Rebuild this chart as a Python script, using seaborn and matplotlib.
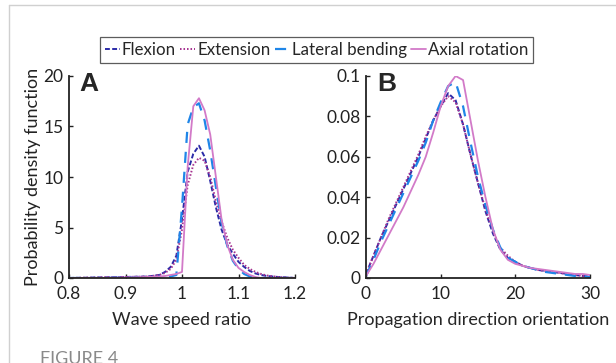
import numpy as np
import pandas as pd
import matplotlib
matplotlib.use("Agg")
import matplotlib.pyplot as plt
import seaborn as sns
from matplotlib.lines import Line2D

# Panel A: wave speed ratio
ratio = [0.80, 0.85, 0.90, 0.94, 0.96, 0.97, 0.98, 0.99, 1.00, 1.01, 1.02, 1.03, 1.04,
         1.05, 1.06, 1.07, 1.08, 1.09, 1.10, 1.11, 1.12, 1.13, 1.14, 1.15, 1.17, 1.20]
flex_a = [0.0, 0.05, 0.1, 0.15, 0.3, 0.6, 1.1, 2.2, 5.8, 10.5, 12.3, 13.1, 12.0,
          9.6, 7.0, 4.8, 3.3, 2.4, 1.6, 1.1, 0.7, 0.45, 0.3, 0.2, 0.1, 0.0]
ext_a = [0.0, 0.05, 0.1, 0.15, 0.3, 0.5, 0.9, 1.8, 4.8, 9.2, 11.2, 11.9, 11.6,
         10.0, 7.6, 5.6, 4.0, 2.8, 2.0, 1.3, 0.9, 0.6, 0.4, 0.25, 0.1, 0.0]
lat_a = [0.0, 0.0, 0.05, 0.05, 0.1, 0.1, 0.15, 0.3, 7.0, 15.2, 16.9, 17.3, 15.6,
         12.6, 9.0, 5.5, 3.2, 1.7, 0.9, 0.4, 0.15, 0.05, 0.0, 0.0, 0.0, 0.0]
axi_a = [0.0, 0.0, 0.05, 0.1, 0.15, 0.2, 0.3, 0.4, 0.6, 11.0, 17.0, 17.8, 16.6,
         14.2, 10.0, 5.8, 3.3, 1.8, 1.0, 0.6, 0.3, 0.1, 0.0, 0.0, 0.0, 0.0]

# Panel B: propagation direction orientation
angle = list(range(0, 31))
flex_b = [0.002, 0.011, 0.020, 0.028, 0.036, 0.044, 0.052, 0.060, 0.069, 0.078, 0.085,
          0.0915, 0.088, 0.076, 0.061, 0.047, 0.033, 0.022, 0.014, 0.010, 0.008,
          0.006, 0.005, 0.004, 0.0035, 0.003, 0.0025, 0.002, 0.0015, 0.001, 0.001]
ext_b = [0.002, 0.011, 0.020, 0.029, 0.037, 0.045, 0.053, 0.061, 0.070, 0.078, 0.085,
         0.090, 0.087, 0.076, 0.061, 0.047, 0.034, 0.023, 0.015, 0.011, 0.008,
         0.006, 0.005, 0.004, 0.0035, 0.003, 0.0025, 0.002, 0.0015, 0.001, 0.001]
lat_b = [0.001, 0.009, 0.018, 0.026, 0.034, 0.042, 0.050, 0.058, 0.067, 0.078, 0.087,
         0.095, 0.097, 0.085, 0.067, 0.050, 0.036, 0.024, 0.015, 0.010, 0.008,
         0.006, 0.005, 0.004, 0.003, 0.0025, 0.002, 0.0015, 0.001, 0.001, 0.0005]
axi_b = [0.001, 0.007, 0.014, 0.021, 0.028, 0.035, 0.043, 0.051, 0.060, 0.072, 0.085,
         0.095, 0.100, 0.098, 0.078, 0.058, 0.040, 0.024, 0.014, 0.009, 0.007,
         0.006, 0.005, 0.0045, 0.004, 0.0035, 0.003, 0.0025, 0.002, 0.002, 0.0015]

names = ["Flexion", "Extension", "Lateral bending", "Axial rotation"]
colors = ["#2b2ba8", "#a5318f", "#1f86e8", "#d27ac8"]
styles = [(0, (2.5, 1.2)), (0, (0.8, 1.0)), (0, (5, 4)), "-"]
widths = [1.4, 1.4, 1.6, 1.3]

df_a = pd.DataFrame({"x": ratio * 4,
                     "y": flex_a + ext_a + lat_a + axi_a,
                     "s": np.repeat(names, len(ratio))})
df_b = pd.DataFrame({"x": angle * 4,
                     "y": flex_b + ext_b + lat_b + axi_b,
                     "s": np.repeat(names, len(angle))})

sns.set_style("white")
plt.rcParams["font.family"] = ["Lato", "DejaVu Sans"]

fig = plt.figure(figsize=(6.16, 3.63), dpi=100)
W, H = 616, 363
ax_a = fig.add_axes([69 / W, 85 / H, 226 / W, 202 / H])
ax_b = fig.add_axes([366 / W, 85 / H, 224 / W, 202 / H])

for ax, df in [(ax_a, df_a), (ax_b, df_b)]:
    for name, c, ls, lw in zip(names, colors, styles, widths):
        sub = df[df["s"] == name]
        sns.lineplot(data=sub, x="x", y="y", ax=ax, color=c, linestyle=ls,
                     linewidth=lw, legend=False)
    sns.despine(ax=ax)
    for side in ["left", "bottom"]:
        ax.spines[side].set_linewidth(1.3)
        ax.spines[side].set_color("#222222")
    ax.tick_params(direction="in", length=3, width=1, labelsize=12.5,
                   colors="#222222", left=True, bottom=True)
    ax.tick_params(axis="x", pad=6)
    ax.tick_params(axis="y", pad=4)
    ax.set_ylabel("")

ax_a.set_xlim(0.8, 1.2)
ax_a.set_ylim(0, 20)
ax_a.set_xticks([0.8, 0.9, 1.0, 1.1, 1.2])
ax_a.set_xticklabels(["0.8", "0.9", "1", "1.1", "1.2"])
ax_a.set_yticks([0, 5, 10, 15, 20])
ax_a.set_xlabel("Wave speed ratio", fontsize=13, labelpad=7)

ax_b.set_xlim(0, 30)
ax_b.set_ylim(0, 0.1)
ax_b.set_xticks([0, 10, 20, 30])
ax_b.set_yticks([0, 0.02, 0.04, 0.06, 0.08, 0.1])
ax_b.set_yticklabels(["0", "0.02", "0.04", "0.06", "0.08", "0.1"])
ax_b.set_xlabel("Propagation direction orientation", fontsize=13, labelpad=7)

fig.text(33 / W, 1 - 177 / H, "Probability density function", rotation=90,
         ha="center", va="center", fontsize=13, color="#222222")
fig.text(79 / W, 1 - 84 / H, "A", fontsize=19, fontweight="bold",
         fontfamily="Liberation Sans", va="center", ha="left")
fig.text(377 / W, 1 - 84 / H, "B", fontsize=19, fontweight="bold",
         fontfamily="Liberation Sans", va="center", ha="left")

handles = [Line2D([0], [0], color=c, linestyle=ls, linewidth=lw)
           for c, ls, lw in zip(colors, styles, widths)]
leg = fig.legend(handles, names, loc="center", ncol=4,
                 bbox_to_anchor=(316.5 / W, 1 - 50 / H), fontsize=12.2,
                 frameon=True, fancybox=False, edgecolor="#333333",
                 handlelength=0.9, handletextpad=0.1, columnspacing=0.25,
                 borderpad=0.3, borderaxespad=0)
leg.get_frame().set_linewidth(0.9)

# page frame and caption
fig.add_artist(Line2D([9 / W, 9 / W], [0, 1 - 5 / H], transform=fig.transFigure,
                      color="#d0d0d0", linewidth=1))
fig.add_artist(Line2D([9 / W, 1], [1 - 5 / H, 1 - 5 / H], transform=fig.transFigure,
                      color="#d0d0d0", linewidth=1))
fig.text(40 / W, 1 - 351 / H, "FIGURE 4", fontsize=13, color="#8a8a8a",
         va="top", ha="left")

fig.savefig("out.png", dpi=100)
